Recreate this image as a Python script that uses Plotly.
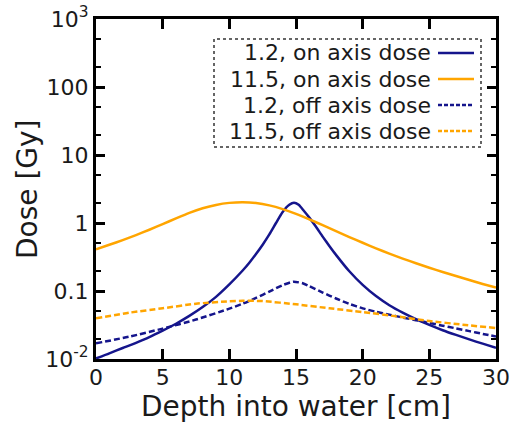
import plotly.graph_objects as go

# ---------------- data ----------------
depth_on_12 = [0, 1, 2, 3, 4, 5, 6, 7, 8, 9, 10, 11, 11.5, 12, 12.5, 13, 13.5, 14, 14.5,
               14.85, 15.2, 15.6, 16, 16.5, 17, 17.5, 18, 19, 20, 21, 22, 23, 24, 25,
               26, 27, 28, 29, 30]
dose_on_12 = [0.0102, 0.0121, 0.0145, 0.0173, 0.021, 0.0262, 0.033, 0.043, 0.058, 0.082,
              0.125, 0.2, 0.26, 0.35, 0.48, 0.68, 1.0, 1.45, 1.85, 1.98, 1.85, 1.5, 1.2,
              0.88, 0.63, 0.46, 0.34, 0.195, 0.123, 0.0843, 0.0618, 0.048, 0.0385, 0.0317,
              0.0265, 0.0226, 0.0194, 0.0168, 0.0146]

depth_on_115 = list(range(0, 31))
dose_on_115 = [0.41, 0.478, 0.56, 0.664, 0.796, 0.964, 1.169, 1.406, 1.644, 1.845, 1.977,
               2.023, 1.968, 1.816, 1.6, 1.361, 1.132, 0.929, 0.759, 0.621, 0.512, 0.424,
               0.355, 0.3, 0.256, 0.22, 0.19, 0.166, 0.145, 0.127, 0.112]

depth_off_12 = [0, 2.5, 5, 7.5, 10, 11, 12, 13, 14, 14.8, 15.5, 16, 17, 18, 19, 20, 21, 22,
                23, 24, 25, 26, 27, 28, 29, 30]
dose_off_12 = [0.017, 0.0213, 0.028, 0.038, 0.055, 0.065, 0.079, 0.098, 0.122, 0.137, 0.13,
               0.118, 0.095, 0.0776, 0.0646, 0.0556, 0.0495, 0.0449, 0.0407, 0.0372, 0.0339,
               0.0309, 0.0282, 0.0257, 0.0234, 0.0214]

depth_off_115 = [0, 2.5, 5, 7.5, 10, 11, 12.5, 15, 17.5, 20, 22.5, 25, 27.5, 30]
dose_off_115 = [0.0397, 0.048, 0.0557, 0.065, 0.0705, 0.0718, 0.071, 0.0637, 0.0557, 0.049,
                0.0425, 0.0362, 0.032, 0.0285]

series_names = ["1.2, on axis dose", "11.5, on axis dose",
                "1.2, off axis dose", "11.5, off axis dose"]

x_ticks = [0, 5, 10, 15, 20, 25, 30]
y_tickvals = [1e3, 100, 10, 1, 0.1, 1e-2]
y_ticktext = ["10<sup>3</sup>", "100", "10", "1", "0.1", "10<sup>-2</sup>"]
x_title = "Depth into water [cm]"
y_title = "Dose [Gy]"

# ---------------- styling ----------------
NAVY = "#15158c"
ORANGE = "#ffa500"
FONT = "DejaVu Sans"
W, H = 514, 423
L, R, T, B = 96, 18, 19, 64

styles = [
    dict(color=NAVY, dash="solid"),
    dict(color=ORANGE, dash="solid"),
    dict(color=NAVY, dash="6px,3px"),
    dict(color=ORANGE, dash="6px,3px"),
]
xs = [depth_on_12, depth_on_115, depth_off_12, depth_off_115]
ys = [dose_on_12, dose_on_115, dose_off_12, dose_off_115]

fig = go.Figure()
for x, y, name, st in zip(xs, ys, series_names, styles):
    fig.add_trace(go.Scatter(x=x, y=y, name=name, mode="lines",
                             line=dict(color=st["color"], dash=st["dash"], width=2.5,
                                       shape="spline", smoothing=0.6),
                             showlegend=False))

fig.update_layout(
    width=W, height=H,
    margin=dict(l=L, r=R, t=T, b=B, pad=0, autoexpand=False),
    paper_bgcolor="white", plot_bgcolor="white",
    font=dict(family=FONT, color="#1a1a1a", size=22),
)
fig.update_xaxes(
    range=[0, 30], tickvals=x_ticks, ticks="inside", ticklen=10, tickwidth=2.5,
    tickcolor="black", showline=True, linewidth=3, linecolor="black", mirror="ticks",
    showgrid=False, zeroline=False, tickfont=dict(size=22), automargin=False,
    ticklabelstandoff=-3,
)
fig.update_yaxes(
    type="log", range=[-2, 3], tickvals=y_tickvals, ticktext=y_ticktext,
    ticks="inside", ticklen=9, tickwidth=2.5, tickcolor="black",
    minor=dict(ticks="inside", ticklen=5, tickwidth=2, tickcolor="black", dtick="D2",
               showgrid=False),
    showline=True, linewidth=3, linecolor="black", mirror="ticks",
    showgrid=False, zeroline=False, tickfont=dict(size=22), automargin=False,
)

pw, ph = W - L - R, H - T - B
def px(xp):
    return (xp - L) / pw
def py(yp):
    return (H - B - yp) / ph

# axis titles
fig.add_annotation(xref="paper", yref="paper", x=px(296), y=py(406), text=x_title,
                   showarrow=False, xanchor="center", yanchor="middle",
                   font=dict(size=28, family=FONT, color="#1a1a1a"))
fig.add_annotation(xref="paper", yref="paper", x=px(27), y=py(189), text=y_title,
                   showarrow=False, xanchor="center", yanchor="middle", textangle=-90,
                   font=dict(size=28, family=FONT, color="#1a1a1a"))

# ---------------- custom legend (text right-aligned, sample on the right) ----------------
fig.add_shape(type="rect", xref="paper", yref="paper",
              x0=px(214), x1=px(481), y0=py(147), y1=py(39),
              line=dict(color="#333333", width=1.5, dash="dot"), fillcolor="white")
rows_y = [53, 79, 105, 131]
for name, st, yy in zip(series_names, styles, rows_y):
    fig.add_annotation(xref="paper", yref="paper", x=px(433), y=py(yy),
                       text=name, showarrow=False, xanchor="right", yanchor="middle",
                       font=dict(size=22, family=FONT, color="#1a1a1a"))
    fig.add_shape(type="line", xref="paper", yref="paper",
                  x0=px(438), x1=px(474), y0=py(yy), y1=py(yy),
                  line=dict(color=st["color"], width=2.5,
                            dash="solid" if st["dash"] == "solid" else "4px,2px"))

fig.write_html("out.html")
